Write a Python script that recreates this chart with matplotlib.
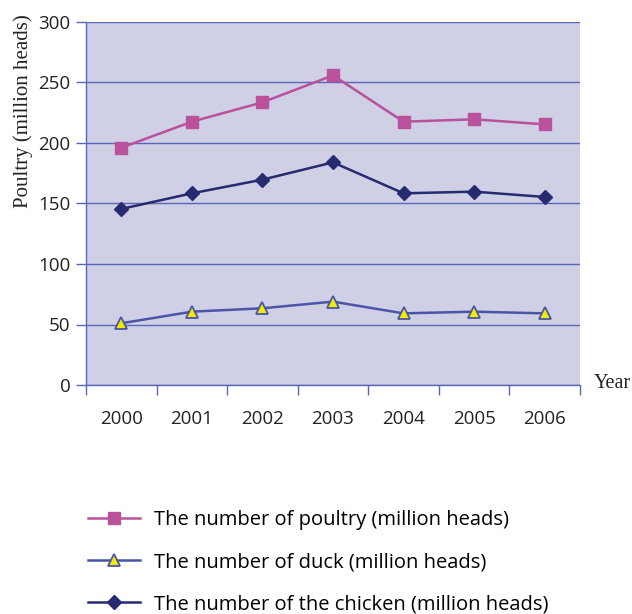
import matplotlib.pyplot as plt
from matplotlib.ticker import FixedLocator, NullFormatter

years = ["2000", "2001", "2002", "2003", "2004", "2005", "2006"]
poultry = [196.1, 217.6, 233.6, 255.9, 217.6, 219.6, 215.4]
chicken = [145.5, 158.4, 169.7, 184.0, 158.4, 159.8, 155.4]
duck = [51.0, 60.6, 63.4, 68.9, 59.2, 60.6, 59.2]

grid_blue = "#5a66b8"
sans = ["Open Sans", "DejaVu Sans"]
serif = ["Liberation Serif", "DejaVu Serif"]

fig = plt.figure(figsize=(6.32, 6.14), dpi=100)
ax = fig.add_axes([86 / 632, 1 - 385 / 614, 494 / 632, 363 / 614])
ax.set_facecolor("#cfcfe6")

x = list(range(len(years)))
ax.plot(x, poultry, color="#b9519b", lw=1.8, marker="s", ms=8.5,
        label="The number of poultry (million heads)", zorder=3)
ax.plot(x, duck, color="#4a55a8", lw=1.8, marker="^", ms=9,
        mfc="#f2ec00", mec="#4a55a8", mew=1.3,
        label="The number of duck (million heads)", zorder=3)
ax.plot(x, chicken, color="#262a6e", lw=1.8, marker="D", ms=7.5,
        label="The number of the chicken (million heads)", zorder=3)

ax.set_xlim(-0.5, len(years) - 0.5)
ax.set_ylim(0, 300)
ax.set_yticks(range(0, 301, 50))
ax.yaxis.grid(True, color=grid_blue, lw=1)
ax.set_axisbelow(True)

# boundary ticks between years, labels centred under each year
ax.xaxis.set_major_locator(FixedLocator([i - 0.5 for i in range(len(years) + 1)]))
ax.xaxis.set_major_formatter(NullFormatter())
ax.xaxis.set_minor_locator(FixedLocator(x))
ax.set_xticklabels(years, minor=True)
ax.tick_params(axis="x", which="major", direction="out", length=7, color=grid_blue, width=1)
ax.tick_params(axis="x", which="minor", length=0, pad=18, labelsize=13.5)
ax.tick_params(axis="y", direction="out", length=7, color=grid_blue, width=1, pad=4, labelsize=13.5)
for lab in ax.get_xticklabels(minor=True) + ax.get_yticklabels():
    lab.set_family(sans)
    lab.set_color("#222222")

for side in ("top", "right"):
    ax.spines[side].set_visible(False)
for side in ("left", "bottom"):
    ax.spines[side].set_color(grid_blue)
    ax.spines[side].set_linewidth(1)

fig.text(13 / 632, 1 - 111 / 614, "Poultry (million heads)", rotation=90,
         ha="left", va="center", family=serif, fontsize=15, color="#222222")
fig.text(594 / 632, 1 - 383 / 614, "Year", ha="left", va="center",
         family=serif, fontsize=14.5, color="#222222")

fig.legend(loc="upper left", bbox_to_anchor=(88 / 632, 1 - 510 / 614),
           frameon=False, prop={"family": sans, "size": 14.5},
           handlelength=2.6, handletextpad=0.7, labelspacing=1.1,
           borderaxespad=0, borderpad=0)

fig.savefig("out.png", dpi=100)
